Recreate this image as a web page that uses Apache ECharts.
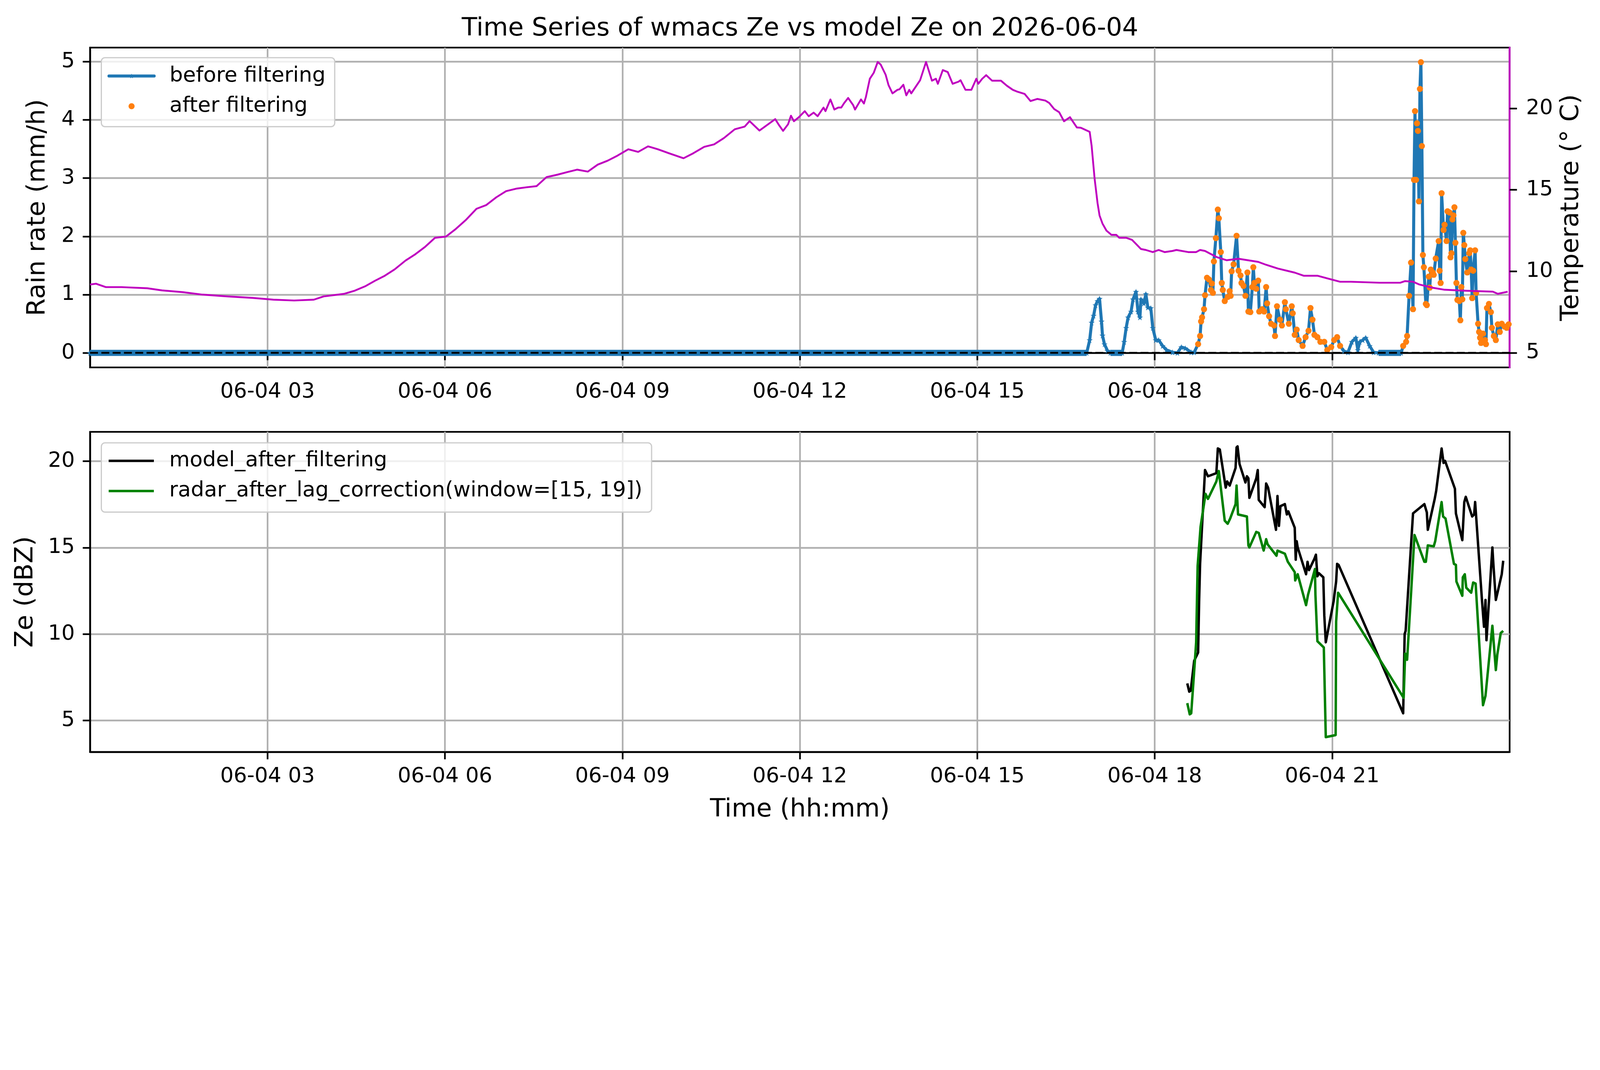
<!DOCTYPE html>
<html>
<head>
<meta charset="utf-8">
<script src="https://cdn.jsdelivr.net/npm/echarts@6/dist/echarts.min.js"></script>
<style>
  html, body { margin: 0; padding: 0; background: #fff; overflow: hidden; }
  #chart { width: 100vw; height: 100vh; }
</style>
</head>
<body>
<div id="chart"></div>
<script>
// ---- data (x in minutes after 00:00) ----
const DAY = '06-04';
const TITLE = 'Time Series of wmacs Ze vs model Ze on 2026-06-04';
const hourTicks = [180, 360, 540, 720, 900, 1080, 1260];
const rainTicks = [0, 1, 2, 3, 4, 5];
const tempTicks = [5, 10, 15, 20];
const zeTicks = [5, 10, 15, 20];

// rain rate (mm/h), before filtering
const rainMinute = [
  0, 1011, 1014, 1016, 1018, 1020, 1022, 1024, 1026, 1027, 1029, 1032, 1035, 1047,
  1049, 1051, 1053, 1056, 1058, 1061, 1063, 1065, 1066, 1069, 1071, 1073, 1076, 1078,
  1081, 1084, 1088, 1092, 1098, 1103, 1107, 1111, 1117, 1120, 1124, 1126, 1127, 1128,
  1130, 1131, 1133, 1135, 1137, 1138, 1139, 1140, 1142, 1144, 1145, 1147, 1148, 1149,
  1151, 1154, 1156, 1157, 1158, 1160, 1163, 1165, 1167, 1168, 1170, 1172, 1174, 1175,
  1177, 1179, 1180, 1181, 1183, 1185, 1186, 1189, 1191, 1193, 1194, 1196, 1198, 1201,
  1202, 1204, 1207, 1209, 1212, 1213, 1216, 1219, 1220, 1222, 1224, 1226, 1230, 1233,
  1236, 1238, 1240, 1242, 1245, 1248, 1252, 1255, 1259, 1262, 1265, 1268, 1272, 1276,
  1280, 1284, 1286, 1288, 1291, 1294, 1298, 1302, 1307, 1330, 1332, 1335, 1336, 1338,
  1340, 1342, 1343, 1344, 1345, 1346, 1347, 1348, 1349, 1350, 1351, 1352, 1353, 1355,
  1356, 1358, 1359, 1360, 1362, 1363, 1365, 1368, 1369, 1370, 1371, 1373, 1374, 1376,
  1377, 1379, 1380, 1381, 1382, 1383, 1384, 1385, 1386, 1387, 1389, 1390, 1391, 1392,
  1393, 1394, 1395, 1397, 1399, 1400, 1401, 1402, 1403, 1405, 1406, 1408, 1409, 1410,
  1411, 1413, 1415, 1416, 1417, 1419, 1421, 1422, 1424, 1426, 1428, 1430, 1432, 1435,
  1437, 1439
];
const rainRate = [
  0, 0, 0.22, 0.52, 0.64, 0.82, 0.89, 0.93, 0.54, 0.30, 0.15, 0.04, 0, 0,
  0.19, 0.43, 0.61, 0.71, 0.92, 1.05, 0.71, 0.61, 0.92, 0.85, 1.01, 0.78, 0.77, 0.43,
  0.22, 0.22, 0.12, 0.05, 0.01, 0, 0.10, 0.08, 0.01, 0.01, 0.15, 0.29, 0.54, 0.61,
  0.75, 0.99, 1.29, 1.26, 1.08, 1.19, 1.03, 1.57, 1.97, 2.46, 2.31, 1.73, 1.20, 1.08,
  0.89, 0.96, 1.06, 0.98, 1.40, 1.52, 2.01, 1.41, 1.33, 1.20, 1.15, 0.98, 1.38, 0.71,
  0.70, 1.13, 1.47, 1.20, 1.10, 1.24, 0.71, 0.75, 0.71, 1.13, 0.85, 0.63, 0.50, 0.47,
  0.29, 0.80, 0.57, 0.47, 0.87, 0.75, 0.50, 0.80, 0.68, 0.31, 0.40, 0.22, 0.12, 0.27,
  0.38, 0.77, 0.57, 0.31, 0.27, 0.19, 0.19, 0.05, 0.10, 0.22, 0.27, 0.12, 0.03, 0.01,
  0.19, 0.26, 0.05, 0.19, 0.22, 0.26, 0.12, 0.01, 0, 0, 0.12, 0.19, 0.29, 0.98,
  1.55, 0.75, 2.97, 4.15, 2.97, 3.94, 3.81, 2.60, 4.53, 4.99, 3.55, 1.68, 1.47, 0.84,
  0.82, 1.31, 1.12, 1.43, 1.38, 1.34, 1.62, 1.92, 1.41, 1.20, 2.74, 2.11, 2.20, 1.92,
  2.43, 2.41, 1.64, 1.71, 2.29, 2.36, 2.50, 1.89, 1.20, 0.91, 0.89, 0.56, 1.13, 0.92,
  2.06, 1.85, 1.61, 1.38, 1.71, 1.76, 1.43, 0.94, 1.41, 1.76, 1.03, 0.50, 0.36, 0.26,
  0.17, 0.33, 0.22, 0.15, 0.77, 0.84, 0.70, 0.43, 0.29, 0.22, 0.49, 0.36, 0.50, 0.45,
  0.43, 0.49
];
// time windows kept by the filter
const keptWindows = [[1123, 1270], [1332, 1440]];
// dry stretches (rain rate 0), where the dense minute markers form a solid band
const dryStretches = [[0, 1011], [1035, 1047], [1307, 1330]];

// temperature (deg C)
const tempMinute = [
  0, 6, 16, 32, 58, 73, 94, 114, 140, 165, 186, 207, 227, 237, 258, 268, 279, 289, 299,
  309, 320, 330, 340, 350, 361, 371, 381, 392, 402, 412, 422, 433, 443, 453, 463, 474,
  484, 494, 505, 515, 525, 535, 546, 556, 566, 576, 587, 602, 612, 623, 633, 643, 654,
  664, 669, 679, 695, 699, 703, 708, 711, 714, 719, 725, 729, 734, 738, 744, 746, 751,
  755, 759, 762, 765, 769, 774, 776, 782, 785, 787, 791, 795, 799, 802, 807, 810, 814,
  819, 821, 825, 828, 831, 833, 842, 848, 854, 858, 860, 865, 870, 875, 881, 883, 888,
  894, 899, 901, 905, 909, 915, 924, 930, 936, 940, 948, 954, 961, 969, 973, 978, 983,
  988, 994, 1001, 1005, 1014, 1016, 1019, 1022, 1024, 1027, 1031, 1036, 1041, 1044,
  1051, 1057, 1061, 1066, 1071, 1078, 1084, 1090, 1098, 1102, 1114, 1122, 1126, 1131,
  1137, 1143, 1153, 1165, 1185, 1193, 1205, 1222, 1231, 1245, 1256, 1268, 1279, 1308,
  1329, 1334, 1342, 1348, 1362, 1374, 1394, 1423, 1428, 1438
];
const tempC = [
  9.19, 9.24, 9.03, 9.03, 8.96, 8.83, 8.72, 8.57, 8.46, 8.37, 8.26, 8.21, 8.26, 8.46, 8.62, 8.80, 9.08, 9.42, 9.73,
  10.12, 10.66, 11.05, 11.51, 12.06, 12.13, 12.60, 13.14, 13.84, 14.07, 14.54, 14.92, 15.08, 15.16, 15.23, 15.78, 15.93,
  16.09, 16.24, 16.12, 16.55, 16.79, 17.10, 17.49, 17.33, 17.67, 17.49, 17.25, 16.94, 17.25, 17.64, 17.79, 18.18, 18.72,
  18.88, 19.22, 18.64, 19.34, 18.96, 18.62, 19.02, 19.55, 19.21, 19.46, 19.83, 19.52, 19.74, 19.52, 20.05, 19.83, 20.55,
  19.93, 20.05, 20.05, 20.33, 20.64, 20.21, 19.93, 20.55, 20.30, 20.70, 21.82, 22.19, 22.85, 22.69, 22.07, 21.42, 20.92,
  21.14, 21.17, 21.45, 20.80, 21.14, 20.92, 21.73, 22.85, 21.70, 21.82, 21.51, 22.35, 22.23, 21.51, 21.64, 21.73, 21.14,
  21.14, 21.82, 21.51, 21.82, 22.04, 21.70, 21.70, 21.39, 21.14, 21.04, 20.89, 20.45, 20.58, 20.48, 20.33, 19.96, 19.77,
  19.21, 19.46, 18.83, 18.81, 18.56, 17.69, 15.69, 14.18, 13.43, 12.93, 12.50, 12.24, 12.24, 12.06,
  12.06, 11.93, 11.68, 11.37, 11.31, 11.18, 11.31, 11.18, 11.25, 11.31, 11.18, 11.18, 11.31, 11.25,
  11.06, 10.87, 10.68, 10.77, 10.58, 10.40, 10.17, 9.92, 9.73, 9.73, 9.55, 9.36, 9.36, 9.30,
  9.30, 9.40, 9.36, 9.20, 8.99, 8.87, 8.81, 8.75, 8.62, 8.75
];

// Ze (dBZ), model after filtering
const modelMinute = [
  1113, 1115, 1116.5, 1120, 1124, 1125, 1126, 1131, 1134, 1142.5, 1144, 1146, 1152, 1153.5,
  1156, 1162, 1163, 1164, 1166, 1172, 1173.5, 1175, 1176, 1183, 1184.5, 1185.5, 1191.5, 1193,
  1195, 1203, 1204.5, 1206, 1207.5, 1212, 1214, 1215.5, 1222, 1223, 1224, 1225, 1233.5, 1235,
  1236.5, 1242, 1243.5, 1245, 1246.5, 1251, 1252, 1253.5, 1261.5, 1264, 1265, 1266.5, 1332,
  1333.5, 1334.5, 1342, 1353.5, 1356, 1357, 1364, 1365.5, 1371, 1373, 1374.5, 1384.5, 1385.5,
  1392, 1394, 1395.5, 1402, 1404, 1405, 1412, 1414, 1415.5, 1416.5, 1422.5, 1423.5, 1426, 1432,
  1433.5
];
const modelZe = [
  7.14, 6.66, 6.72, 8.45, 8.93, 11.85, 14.06, 19.49, 19.13, 19.31, 20.74, 20.68, 18.47, 18.83,
  18.59, 19.61, 20.80, 20.86, 19.84, 18.77, 19.13, 19.01, 17.88, 19.01, 19.49, 17.76, 17.34, 18.71,
  18.47, 16.03, 17.99, 16.26, 17.40, 17.52, 16.92, 17.10, 16.15, 14.30, 15.37, 15.01, 13.46, 14.18,
  13.70, 14.36, 14.59, 13.34, 13.52, 13.28, 11.07, 9.52, 11.91, 13.04, 14.06, 14.00, 5.41,
  10.00, 10.18, 16.98, 17.52, 17.04, 16.03, 17.82, 18.29, 20.74, 19.90, 20.02, 18.41, 16.98,
  15.43, 17.64, 17.94, 16.80, 16.92, 17.64, 11.91, 10.42, 11.97, 9.64, 15.01, 14.06, 11.97, 13.46,
  14.24
];

// Ze (dBZ), radar after lag correction
const radarMinute = [
  1113, 1115.5, 1117, 1120, 1122, 1123.5, 1126.5, 1131.5, 1134, 1142.5, 1145, 1151, 1154, 1156.5,
  1162, 1163, 1164.5, 1173.5, 1175, 1176, 1183, 1185.5, 1190.5, 1193, 1194.5, 1203.5, 1204.5, 1212,
  1215, 1222, 1222.5, 1225, 1233.5, 1235.5, 1242.5, 1243, 1245, 1251.5, 1253.5, 1263.5, 1264, 1266,
  1332.5, 1334, 1336, 1343.5, 1353.5, 1355, 1357, 1363, 1364.5, 1371, 1372.5, 1375, 1383.5, 1385.5,
  1386, 1392, 1392.5, 1394.5, 1396, 1401, 1403, 1405.5, 1413, 1415.5, 1422.5, 1426, 1427.5, 1431,
  1433.5
];
const radarZe = [
  6.00, 5.35, 5.41, 7.85, 9.52, 13.94, 16.21, 18.11, 17.82, 18.83, 19.43, 16.56, 16.38, 16.68,
  17.52, 18.59, 16.92, 16.80, 15.13, 15.01, 15.91, 15.85, 14.83, 15.49, 15.19, 14.53, 14.83, 14.65,
  14.18, 13.58, 13.10, 13.46, 11.67, 12.27, 13.76, 12.27, 9.58, 9.22, 4.03, 4.15, 10.72, 12.39,
  6.30, 8.87, 8.51, 15.73, 14.18, 14.18, 15.13, 15.07, 15.37, 17.64, 16.80, 16.68, 14.06, 14.00,
  13.04, 12.21, 13.28, 13.46, 12.68, 12.39, 12.98, 12.92, 5.88, 6.42, 10.48, 7.91, 8.81, 10.06,
  10.18
];

// ---- helpers ----
// layout numbers below are in reference pixels (5241 wide); scale them to css pixels
const S = window.innerWidth / 5241;
const px = (n) => n * S;
const FONT = 'DejaVu Sans';
const SMALL = px(69);   // ticks, legend
const LARGE = px(83);   // title, axis names
const pairs = (xs, ys) => xs.map((x, i) => [x, ys[i]]);
const inWindows = (m) => keptWindows.some(([a, b]) => m >= a && m <= b);
const hourLabel = (v) => DAY + ' ' + String(v / 60).padStart(2, '0');
const STAR = 'path://M50,0 L61,35 L98,35 L68,57 L79,91 L50,70 L21,91 L32,57 L2,35 L39,35 Z';

const rainBefore = pairs(rainMinute, rainRate);
const rainAfter = rainBefore.filter((p) => inWindows(p[0]));

// shared axis pieces
const gridLine = { show: true, lineStyle: { color: '#b0b0b0', width: px(5.5) } };
const tickStyle = (vals) => ({ show: true, inside: false, length: px(24), lineStyle: { color: '#000', width: px(5.5) }, customValues: vals });
const labelStyle = (vals, extra) => Object.assign({ fontFamily: FONT, fontSize: SMALL, color: '#000', customValues: vals }, extra || {});
const nameStyle = { fontFamily: FONT, fontSize: LARGE, color: '#000' };

const timeAxis = (gridIndex, withName) => ({
  type: 'value', gridIndex: gridIndex, min: 0, max: 1440,
  axisLine: { show: true, lineStyle: { color: '#000', width: px(5.5) } },
  axisTick: tickStyle(hourTicks),
  axisLabel: labelStyle(hourTicks, { margin: px(46), formatter: hourLabel }),
  splitLine: gridLine,
  name: withName ? 'Time (hh:mm)' : '',
  nameLocation: 'middle', nameGap: px(148), nameMoveOverlap: false,
  nameTextStyle: nameStyle
});

const legendBase = {
  orient: 'vertical', left: px(332),
  itemWidth: px(148), itemHeight: px(20), itemGap: px(19),
  backgroundColor: 'rgba(255,255,255,0.8)',
  borderColor: '#cccccc', borderWidth: px(4), borderRadius: px(12),
  textStyle: { fontFamily: FONT, fontSize: SMALL, color: '#000', lineHeight: px(80), padding: [0, 0, 0, px(44)] }
};

// the zero stretches of the unfiltered rain series, drawn as a thick band
const drySeries = dryStretches.map(([a, b]) => ({
  name: 'before filtering', type: 'line', xAxisIndex: 0, yAxisIndex: 0,
  data: [[a, 0], [b, 0]], color: '#1f77b4',
  lineStyle: { width: px(20), cap: 'butt' }, showSymbol: false, symbol: 'none', z: 2
}));

const chart = echarts.init(document.getElementById('chart'), null, { renderer: 'canvas' });

chart.setOption({
  animation: false,
  backgroundColor: '#fff',
  title: {
    text: TITLE, left: 'center', top: px(47),
    textStyle: { fontFamily: FONT, fontSize: LARGE, fontWeight: 'normal', color: '#000' }
  },
  legend: [
    Object.assign({}, legendBase, {
      top: px(189), padding: [px(20), px(30), px(27), px(20)],
      data: [
        { name: 'before filtering', lineStyle: { width: px(10) } },
        { name: 'after filtering' }
      ]
    }),
    Object.assign({}, legendBase, {
      top: px(1451), padding: [px(19), px(30), px(29), px(20)],
      data: [
        { name: 'model_after_filtering', lineStyle: { width: px(8) }, itemStyle: { opacity: 0 } },
        { name: 'radar_after_lag_correction(window=[15, 19])', lineStyle: { width: px(8) }, itemStyle: { opacity: 0 } }
      ]
    })
  ],
  grid: [
    { left: px(295), right: px(296), top: px(156), height: px(1048), show: true, borderColor: '#000', borderWidth: px(5.5), outerBoundsMode: 'none' },
    { left: px(295), right: px(296), top: px(1415), height: px(1049), show: true, borderColor: '#000', borderWidth: px(5.5), outerBoundsMode: 'none' }
  ],
  xAxis: [timeAxis(0, false), timeAxis(1, true)],
  yAxis: [
    {
      type: 'value', gridIndex: 0, position: 'left', min: -0.25, max: 5.24,
      axisLine: { show: true, lineStyle: { color: '#000', width: px(5.5) } },
      axisTick: tickStyle(rainTicks),
      axisLabel: labelStyle(rainTicks, { margin: px(50) }),
      splitLine: gridLine,
      name: 'Rain rate (mm/h)', nameLocation: 'middle', nameGap: px(129), nameMoveOverlap: false,
      nameTextStyle: nameStyle
    },
    {
      type: 'value', gridIndex: 0, position: 'right', min: 4.1, max: 23.73,
      axisLine: { show: true, lineStyle: { color: '#bf00bf', width: px(6) } },
      axisTick: tickStyle(tempTicks),
      axisLabel: labelStyle(tempTicks, { margin: px(54) }),
      splitLine: { show: false },
      name: 'Temperature (° C)', nameLocation: 'middle', nameGap: px(161), nameRotate: 90, nameMoveOverlap: false,
      nameTextStyle: nameStyle
    },
    {
      type: 'value', gridIndex: 1, position: 'left', min: 3.17, max: 21.7,
      axisLine: { show: true, lineStyle: { color: '#000', width: px(5.5) } },
      axisTick: tickStyle(zeTicks),
      axisLabel: labelStyle(zeTicks, { margin: px(50) }),
      splitLine: gridLine,
      name: 'Ze (dBZ)', nameLocation: 'middle', nameGap: px(169), nameMoveOverlap: false,
      nameTextStyle: nameStyle
    }
  ],
  series: [
    {
      name: 'before filtering', type: 'line', xAxisIndex: 0, yAxisIndex: 0,
      data: rainBefore, color: '#1f77b4',
      lineStyle: { width: px(10), cap: 'round', join: 'round' },
      symbol: STAR, symbolSize: px(20), showAllSymbol: true, z: 2
    },
    ...drySeries,
    {
      name: 'after filtering', type: 'scatter', xAxisIndex: 0, yAxisIndex: 0,
      data: rainAfter, color: '#ff7f0e', symbolSize: px(20), z: 3,
      itemStyle: { opacity: 1 },
      markLine: {
        silent: true, symbol: 'none', label: { show: false },
        lineStyle: { color: '#000', width: px(6), type: [px(26), px(11)] },
        data: [{ yAxis: 0 }]
      }
    },
    {
      name: 'Temperature', type: 'line', xAxisIndex: 0, yAxisIndex: 1,
      data: pairs(tempMinute, tempC), color: '#bf00bf',
      lineStyle: { width: px(6), join: 'round' }, showSymbol: false, z: 4
    },
    {
      name: 'model_after_filtering', type: 'line', xAxisIndex: 1, yAxisIndex: 2,
      data: pairs(modelMinute, modelZe), color: '#000000',
      lineStyle: { width: px(8), join: 'round' }, showSymbol: false, symbol: 'none', z: 3
    },
    {
      name: 'radar_after_lag_correction(window=[15, 19])', type: 'line', xAxisIndex: 1, yAxisIndex: 2,
      data: pairs(radarMinute, radarZe), color: '#008000',
      lineStyle: { width: px(8), join: 'round' }, showSymbol: false, symbol: 'none', z: 3
    }
  ]
});
</script>
</body>
</html>
